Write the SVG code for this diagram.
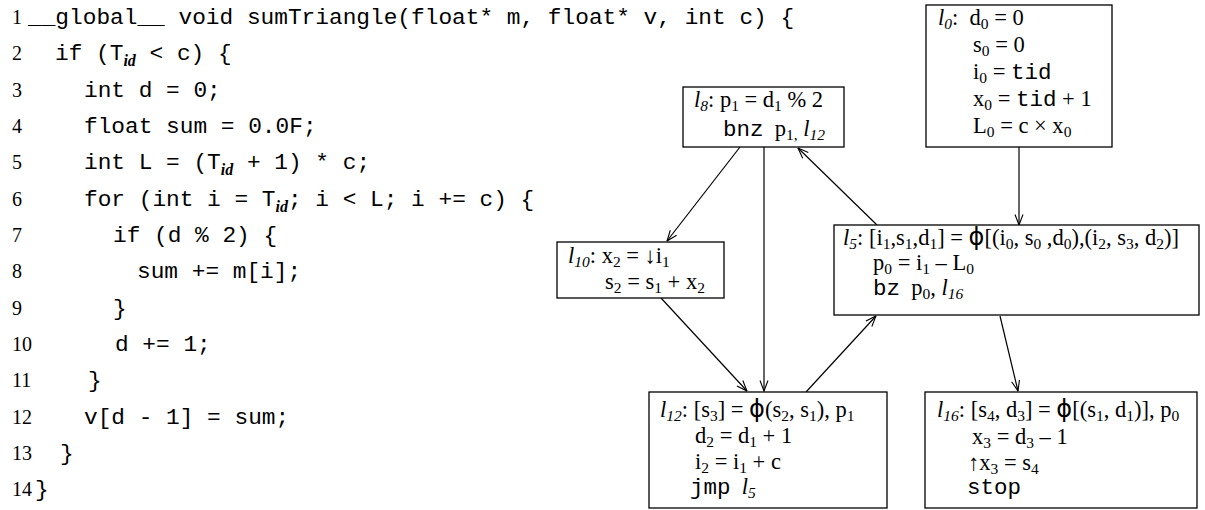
<svg xmlns="http://www.w3.org/2000/svg" width="1205" height="510" viewBox="0 0 1205 510" xml:space="preserve">
<style>
text{white-space:pre;fill:#000}
.n{font-family:"Liberation Serif",serif;font-size:20px}
.c{font-family:"Liberation Mono",monospace;font-size:22.8px}
.t{font-family:"Liberation Serif",serif;font-size:22.5px}
.m{font-family:"Liberation Mono",monospace;font-size:22.5px}
.it{font-style:italic}
.sb{font-size:15.5px}
.sbi{font-size:15.5px;font-style:italic}
.cid{font-family:"Liberation Serif",serif;font-size:16px;font-style:italic;font-weight:bold}
.phi{font-family:"DejaVu Sans",sans-serif;font-size:24px}
rect.box{fill:#fff;stroke:#000;stroke-width:1.3}
.edge{stroke:#000;stroke-width:1.2;fill:none;marker-end:url(#ah)}
</style>
<defs>
<marker id="ah" viewBox="0 0 12 10" refX="11.5" refY="5" markerWidth="12" markerHeight="10" orient="auto" markerUnits="userSpaceOnUse"><path d="M1,1 L11.5,5 L1,9" fill="none" stroke="#000" stroke-width="1.1"/></marker>
</defs>
<rect width="1205" height="510" fill="#fff"/>
<g id="code">
<text class="n" x="12" y="24">1</text><text class="c" x="28" y="24">__global__ void sumTriangle(float* m, float* v, int c) {</text>
<text class="n" x="12" y="60">2</text><text class="c" x="55" y="60">if (T<tspan class="cid" dy="6">id</tspan><tspan dy="-6"> &lt; c) {</tspan></text>
<text class="n" x="12" y="97">3</text><text class="c" x="84" y="97">int d = 0;</text>
<text class="n" x="12" y="133">4</text><text class="c" x="84" y="133">float sum = 0.0F;</text>
<text class="n" x="12" y="169">5</text><text class="c" x="84" y="169">int L = (T<tspan class="cid" dy="6">id</tspan><tspan dy="-6"> + 1) * c;</tspan></text>
<text class="n" x="12" y="206">6</text><text class="c" x="84" y="206">for (int i = T<tspan class="cid" dy="6">id</tspan><tspan dy="-6">; i &lt; L; i += c) {</tspan></text>
<text class="n" x="12" y="242">7</text><text class="c" x="113" y="242">if (d % 2) {</text>
<text class="n" x="12" y="278">8</text><text class="c" x="137" y="278">sum += m[i];</text>
<text class="n" x="12" y="315">9</text><text class="c" x="113" y="315">}</text>
<text class="n" x="12" y="351">10</text><text class="c" x="115" y="351">d += 1;</text>
<text class="n" x="12" y="387">11</text><text class="c" x="88" y="387">}</text>
<text class="n" x="12" y="424">12</text><text class="c" x="84" y="424">v[d - 1] = sum;</text>
<text class="n" x="12" y="460">13</text><text class="c" x="60" y="460">}</text>
<text class="n" x="12" y="496">14</text><text class="c" x="35" y="496">}</text>
</g>
<g id="connectors">
<line class="edge" x1="740" y1="147" x2="667" y2="241"/>
<line class="edge" x1="764" y1="147" x2="764" y2="391"/>
<line class="edge" x1="877" y1="225" x2="798" y2="148"/>
<line class="edge" x1="1019" y1="147" x2="1019" y2="225"/>
<line class="edge" x1="661" y1="298" x2="747" y2="391"/>
<line class="edge" x1="806" y1="392" x2="876" y2="316"/>
<line class="edge" x1="1000" y1="316" x2="1018" y2="391"/>
</g>
<g id="l8">
<rect class="box" x="683" y="87" width="161" height="60"/>
<text class="t" x="694" y="107"><tspan class="it">l</tspan><tspan class="sbi" dy="4">8</tspan><tspan dy="-4">: p</tspan><tspan class="sb" dy="4">1</tspan><tspan dy="-4"> = d</tspan><tspan class="sb" dy="4">1</tspan><tspan dy="-4"> % 2</tspan></text>
<text class="t" x="723" y="136"><tspan class="m">bnz</tspan><tspan>  p</tspan><tspan class="sb" dy="4">1,</tspan><tspan dy="-4"> </tspan><tspan class="it">l</tspan><tspan class="sbi" dy="4">12</tspan></text>
</g>
<g id="l0">
<rect class="box" x="926" y="5" width="186" height="142"/>
<text class="t" x="938" y="25"><tspan class="it">l</tspan><tspan class="sbi" dy="4">0</tspan><tspan dy="-4">:  d</tspan><tspan class="sb" dy="4">0</tspan><tspan dy="-4"> = 0</tspan></text>
<text class="t" x="973" y="52">s<tspan class="sb" dy="4">0</tspan><tspan dy="-4"> = 0</tspan></text>
<text class="t" x="973" y="79">i<tspan class="sb" dy="4">0</tspan><tspan dy="-4"> = </tspan><tspan class="m">tid</tspan></text>
<text class="t" x="973" y="106">x<tspan class="sb" dy="4">0</tspan><tspan dy="-4"> = </tspan><tspan class="m">tid</tspan><tspan> + 1</tspan></text>
<text class="t" x="973" y="133">L<tspan class="sb" dy="4">0</tspan><tspan dy="-4"> = c × x</tspan><tspan class="sb" dy="4">0</tspan></text>
</g>
<g id="l10">
<rect class="box" x="557" y="242" width="167" height="56"/>
<text class="t" x="568" y="263"><tspan class="it">l</tspan><tspan class="sbi" dy="4">10</tspan><tspan dy="-4">: x</tspan><tspan class="sb" dy="4">2</tspan><tspan dy="-4"> = ↓i</tspan><tspan class="sb" dy="4">1</tspan></text>
<text class="t" x="605" y="289">s<tspan class="sb" dy="4">2</tspan><tspan dy="-4"> = s</tspan><tspan class="sb" dy="4">1</tspan><tspan dy="-4"> + x</tspan><tspan class="sb" dy="4">2</tspan></text>
</g>
<g id="l5">
<rect class="box" x="834" y="225" width="365" height="90"/>
<text class="t" x="843" y="245"><tspan class="it">l</tspan><tspan class="sbi" dy="4">5</tspan><tspan dy="-4">: [i</tspan><tspan class="sb" dy="4">1</tspan><tspan dy="-4">,s</tspan><tspan class="sb" dy="4">1</tspan><tspan dy="-4">,d</tspan><tspan class="sb" dy="4">1</tspan><tspan dy="-4">] = </tspan><tspan class="phi">ϕ</tspan><tspan>[(i</tspan><tspan class="sb" dy="4">0</tspan><tspan dy="-4">, s</tspan><tspan class="sb" dy="4">0</tspan><tspan dy="-4"> ,d</tspan><tspan class="sb" dy="4">0</tspan><tspan dy="-4">),(i</tspan><tspan class="sb" dy="4">2</tspan><tspan dy="-4">, s</tspan><tspan class="sb" dy="4">3</tspan><tspan dy="-4">, d</tspan><tspan class="sb" dy="4">2</tspan><tspan dy="-4">)]</tspan></text>
<text class="t" x="873" y="270">p<tspan class="sb" dy="4">0</tspan><tspan dy="-4"> = i</tspan><tspan class="sb" dy="4">1</tspan><tspan dy="-4"> – L</tspan><tspan class="sb" dy="4">0</tspan></text>
<text class="t" x="873" y="295"><tspan class="m">bz</tspan><tspan>  p</tspan><tspan class="sb" dy="4">0</tspan><tspan dy="-4">, </tspan><tspan class="it">l</tspan><tspan class="sbi" dy="4">16</tspan></text>
</g>
<g id="l12">
<rect class="box" x="649" y="392" width="238" height="116"/>
<text class="t" x="660" y="417"><tspan class="it">l</tspan><tspan class="sbi" dy="4">12</tspan><tspan dy="-4">: [s</tspan><tspan class="sb" dy="4">3</tspan><tspan dy="-4">] = </tspan><tspan class="phi">ϕ</tspan><tspan>(s</tspan><tspan class="sb" dy="4">2</tspan><tspan dy="-4">, s</tspan><tspan class="sb" dy="4">1</tspan><tspan dy="-4">), p</tspan><tspan class="sb" dy="4">1</tspan></text>
<text class="t" x="695" y="443">d<tspan class="sb" dy="4">2</tspan><tspan dy="-4"> = d</tspan><tspan class="sb" dy="4">1</tspan><tspan dy="-4"> + 1</tspan></text>
<text class="t" x="695" y="469">i<tspan class="sb" dy="4">2</tspan><tspan dy="-4"> = i</tspan><tspan class="sb" dy="4">1</tspan><tspan dy="-4"> + c</tspan></text>
<text class="t" x="690" y="494"><tspan class="m">jmp</tspan><tspan>  </tspan><tspan class="it">l</tspan><tspan class="sbi" dy="4">5</tspan></text>
</g>
<g id="l16">
<rect class="box" x="925" y="392" width="272" height="116"/>
<text class="t" x="937" y="417"><tspan class="it">l</tspan><tspan class="sbi" dy="4">16</tspan><tspan dy="-4">: [s</tspan><tspan class="sb" dy="4">4</tspan><tspan dy="-4">, d</tspan><tspan class="sb" dy="4">3</tspan><tspan dy="-4">] = </tspan><tspan class="phi">ϕ</tspan><tspan>[(s</tspan><tspan class="sb" dy="4">1</tspan><tspan dy="-4">, d</tspan><tspan class="sb" dy="4">1</tspan><tspan dy="-4">)], p</tspan><tspan class="sb" dy="4">0</tspan></text>
<text class="t" x="972" y="444">x<tspan class="sb" dy="4">3</tspan><tspan dy="-4"> = d</tspan><tspan class="sb" dy="4">3</tspan><tspan dy="-4"> – 1</tspan></text>
<text class="t" x="968" y="470">↑x<tspan class="sb" dy="4">3</tspan><tspan dy="-4"> = s</tspan><tspan class="sb" dy="4">4</tspan></text>
<text class="t" x="967" y="494"><tspan class="m">stop</tspan></text>
</g>
</svg>
